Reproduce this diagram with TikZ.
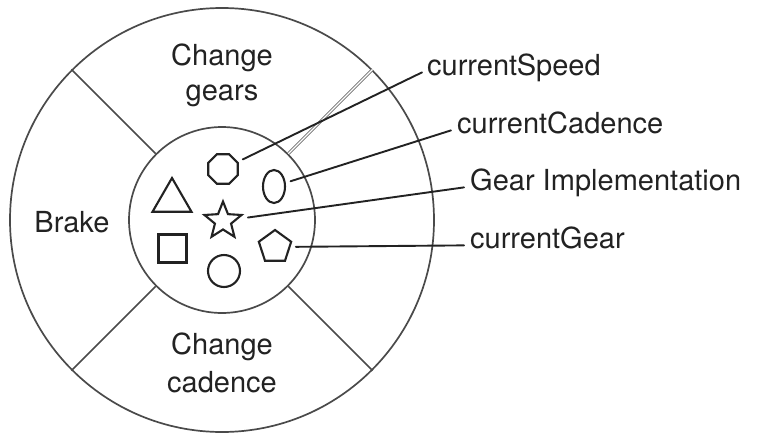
\documentclass[tikz,border=0pt]{standalone}
\usepackage{fontspec}
\setmainfont{TeX Gyre Heros}
\usetikzlibrary{shapes.geometric}
\definecolor{ring}{HTML}{4A4A4A}
\definecolor{ink}{HTML}{222222}
\tikzset{
  ringc/.style={circle, draw=ring, line width=1.7pt, inner sep=0pt},
  divider/.style={draw=ring, line width=1.7pt},
  dividerdbl/.style={draw=ring!80, line width=0.9pt, double=white, double distance=1.1pt},
  shp/.style={draw=ink, line width=2.1pt, inner sep=0pt, outer sep=6pt},
  lbl/.style={font=\fontsize{29}{34}\selectfont, text=ink, inner sep=0pt, anchor=base west},
  sect/.style={font=\fontsize{29}{35}\selectfont, text=ink, align=center, inner sep=0pt},
  conn/.style={draw=ink, line width=1.9pt, line cap=round}
}
\begin{document}
\begin{tikzpicture}[x=1pt,y=-1pt]
\useasboundingbox (0,0) rectangle (770,434);
% rings
\node[ringc, minimum size=424pt] (outer) at (222,220) {};
\node[ringc, minimum size=186pt] (inner) at (222,220) {};
% dividers
\draw[divider] (inner.135) -- (outer.135);
\draw[divider] (inner.225) -- (outer.225);
\draw[divider] (inner.315) -- (outer.315);
\draw[dividerdbl] (inner.45) -- (outer.45);
% sector texts
\node[sect, anchor=base] (cg1) at (222,65) {Change};
\node[sect, anchor=base] (cg2) at (222,100) {gears};
\node[sect, anchor=base] (br) at (72,232) {Brake};
\node[sect, anchor=base] (cc1) at (222,354) {Change};
\node[sect, anchor=base] (cc2) at (222,392) {cadence};
% inner shapes
\node[shp, regular polygon, regular polygon sides=8, minimum size=32pt] (oct) at (223,169) {};
\node[shp, ellipse, minimum width=22pt, minimum height=33pt] (ell) at (274,186.5) {};
\node[shp, regular polygon, regular polygon sides=3, minimum size=45pt] (tri) at (172,200.5) {};
\node[shp, star, star points=5, star point ratio=2.3, minimum size=39pt] (sta) at (223,221) {};
\node[shp, rectangle, minimum size=28pt] (sq) at (172.5,248.5) {};
\node[shp, regular polygon, regular polygon sides=5, minimum size=34pt] (pen) at (275,247) {};
\node[shp, circle, minimum size=32pt] (cir) at (224,271) {};
% labels
\node[lbl] (lsp) at (427,75) {currentSpeed};
\node[lbl] (lca) at (457,133) {currentCadence};
\node[lbl] (lgi) at (470,190) {Gear Implementation};
\node[lbl] (lge) at (470,248) {currentGear};
% connectors
\draw[conn] ([xshift=-5pt]lsp.mid west) -- (oct);
\draw[conn] ([xshift=-6pt]lca.mid west) -- (ell);
\draw[conn] ([xshift=-6pt]lgi.mid west) -- (sta);
\draw[conn] ([xshift=-6pt]lge.mid west) -- (pen);
\end{tikzpicture}
\end{document}
